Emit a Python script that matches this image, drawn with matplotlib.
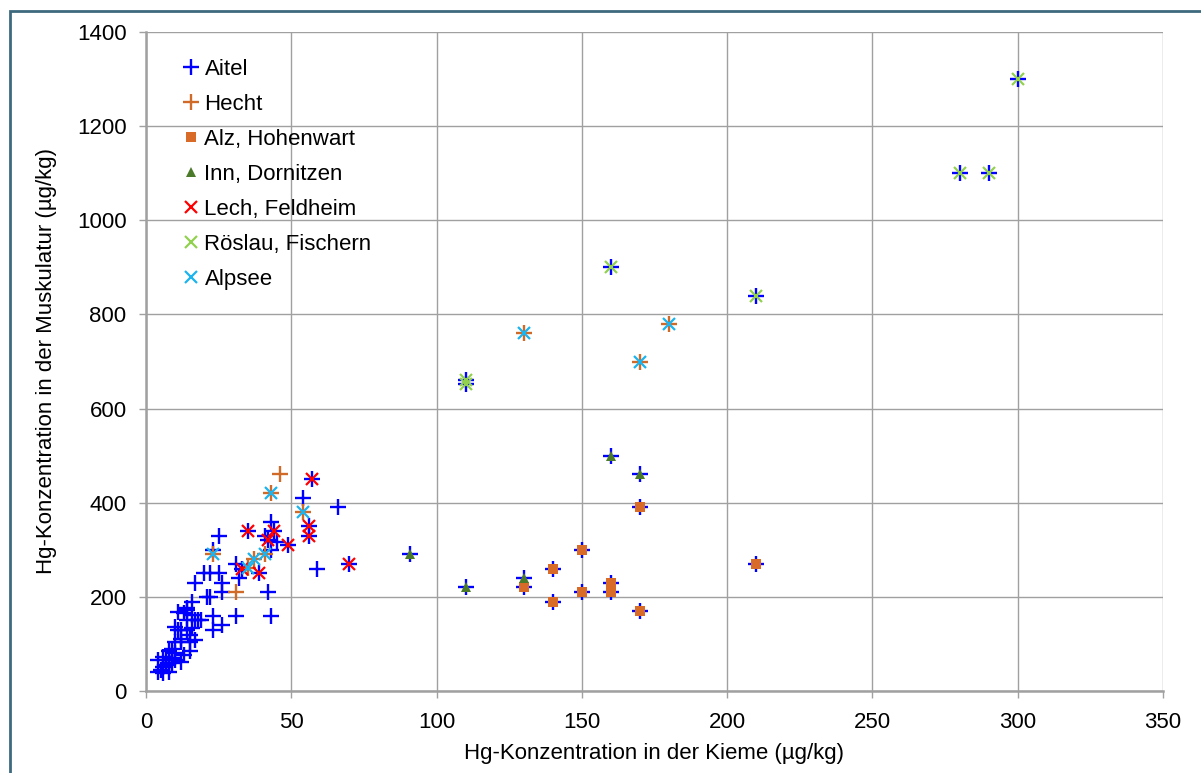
import matplotlib
matplotlib.use("Agg")
import matplotlib.pyplot as plt
from matplotlib.patches import Rectangle

plt.rcParams["font.family"] = ["Liberation Sans", "DejaVu Sans"]

# ── data (Hg in gill vs. muscle, µg/kg) ─────────────────────────────────────

aitel_x = [300, 290, 280, 210, 160, 110, 110,
           91, 110, 130, 130, 140, 140, 150, 150, 160, 160, 160, 170, 170, 170, 210,
           57, 56, 56, 35, 44, 42, 49, 33, 39, 70,
           54, 66, 43, 59, 42, 43, 31, 25, 23, 41, 43, 45, 31, 32,
           17, 20, 22, 25, 26, 26, 21, 22, 23, 26, 23, 16, 14, 13, 17, 19, 14,
           10, 12, 16, 17, 15, 12,
           4, 6, 8, 9, 9, 10, 8, 6, 4, 6, 8, 12, 13, 15, 15, 12, 10,
           11, 14, 11, 14, 16, 18, 5, 7, 10, 9, 7]
aitel_y = [1300, 1100, 1100, 840, 900, 660, 652,
           290, 220, 240, 220, 260, 190, 300, 210, 230, 210, 500, 460, 390, 170, 270,
           450, 350, 330, 340, 340, 320, 310, 260, 250, 270,
           410, 390, 360, 260, 210, 160, 160, 330, 300, 330, 300, 317, 270, 240,
           230, 250, 250, 250, 229, 210, 200, 200, 160, 140, 130, 190, 172, 165, 150, 150, 150,
           137, 130, 133, 108, 120, 110,
           66, 73, 84, 90, 70, 66, 59, 52, 41, 38, 41, 62, 76, 84, 105, 105, 105,
           130, 130, 168, 176, 161, 151, 45, 55, 80, 60, 65]

hecht_x = [130, 180, 170, 46, 43, 54, 23, 41, 37, 35, 31]
hecht_y = [760, 780, 700, 460, 420, 380, 290, 290, 280, 262, 210]

alz_x = [130, 140, 140, 150, 150, 160, 160, 170, 170, 210]
alz_y = [220, 260, 190, 300, 210, 230, 210, 390, 170, 270]

inn_x = [91, 110, 130, 160, 170]
inn_y = [290, 220, 240, 500, 460]

lech_x = [57, 56, 56, 35, 44, 42, 49, 33, 39, 70]
lech_y = [450, 350, 330, 340, 340, 320, 310, 260, 250, 270]

roeslau_x = [300, 290, 280, 210, 160, 110, 110]
roeslau_y = [1300, 1100, 1100, 840, 900, 660, 652]

alpsee_x = [130, 180, 170, 43, 54, 23, 41, 37, 35]
alpsee_y = [760, 780, 700, 420, 380, 290, 290, 280, 262]

x_ticks = [0, 50, 100, 150, 200, 250, 300, 350]
y_ticks = [0, 200, 400, 600, 800, 1000, 1200, 1400]

# ── figure ──────────────────────────────────────────────────────────────────

fig = plt.figure(figsize=(12.01, 7.73), dpi=100)
ax = fig.add_axes([146 / 1201, 1 - 691 / 773, 1017 / 1201, 659 / 773])

ax.plot(aitel_x, aitel_y, ls="none", marker="+", ms=11, mew=1.7,
        color="#0000FF", label="Aitel")
ax.plot(hecht_x, hecht_y, ls="none", marker="+", ms=11, mew=1.7,
        color="#D06A28", label="Hecht")
ax.plot(alz_x, alz_y, ls="none", marker="s", ms=6.5, mew=0,
        color="#D86B28", label="Alz, Hohenwart")
ax.plot(inn_x, inn_y, ls="none", marker="^", ms=7, mew=0,
        color="#4B7A2A", label="Inn, Dornitzen")
ax.plot(lech_x, lech_y, ls="none", marker="x", ms=8, mew=1.6,
        color="#FF0000", label="Lech, Feldheim")
ax.plot(roeslau_x, roeslau_y, ls="none", marker="x", ms=8, mew=1.6,
        color="#92D050", label="Röslau, Fischern")
ax.plot(alpsee_x, alpsee_y, ls="none", marker="x", ms=8, mew=1.6,
        color="#1BB4EE", label="Alpsee")

ax.set_xlim(0, 350)
ax.set_ylim(0, 1400)
ax.set_xticks(x_ticks)
ax.set_yticks(y_ticks)
ax.grid(True, color="#A0A0A0", lw=1)
ax.set_axisbelow(True)

for side in ("top", "right"):
    ax.spines[side].set_visible(False)
for side in ("left", "bottom"):
    ax.spines[side].set_color("#A0A0A0")
    ax.spines[side].set_linewidth(1.8)

ax.tick_params(axis="both", colors="#A0A0A0", labelcolor="black",
               labelsize=16, length=5, width=1)
ax.tick_params(axis="y", pad=9)
ax.tick_params(axis="x", pad=10)

ax.set_xlabel("Hg-Konzentration in der Kieme (µg/kg)", fontsize=16, labelpad=7)
ax.set_ylabel("Hg-Konzentration in der Muskulatur (µg/kg)", fontsize=16, labelpad=14)

leg = ax.legend(loc="upper left", bbox_to_anchor=(0.028, 0.973), frameon=False,
                fontsize=16, handlelength=0.7, handletextpad=0.25,
                labelspacing=0.63, borderaxespad=0)

# outer chart border
fig.add_artist(Rectangle((9.5 / 1201, -0.05), 1.2, 1.05 - 11.5 / 773,
                         transform=fig.transFigure, fill=False,
                         edgecolor="#3E6A7E", lw=2))

fig.savefig("out.png", dpi=100)
